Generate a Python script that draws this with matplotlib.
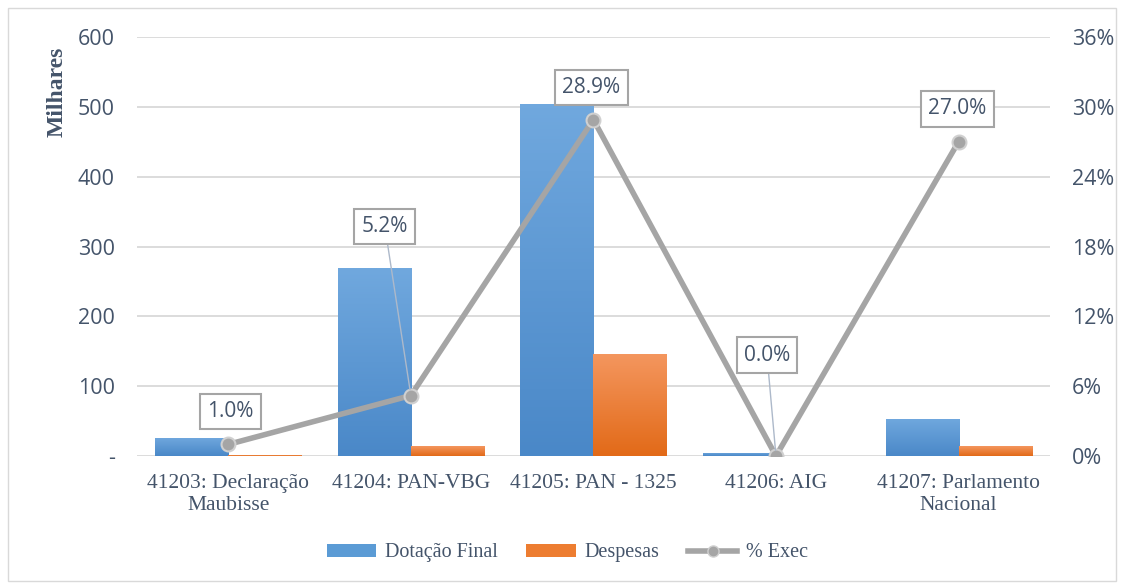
import numpy as np
import matplotlib
matplotlib.use('Agg')
import matplotlib.pyplot as plt
from matplotlib.patches import Rectangle, Patch
from matplotlib.lines import Line2D
from matplotlib.colors import LinearSegmentedColormap

categories = ['41203: Declaração\nMaubisse', '41204: PAN-VBG', '41205: PAN - 1325',
              '41206: AIG', '41207: Parlamento\nNacional']
dotacao = [26, 269, 504, 5, 53]      # milhares
despesas = [1, 14, 146, 0, 14]       # milhares
exec_pct = [1.0, 5.2, 28.9, 0.0, 27.0]
pct_labels = ['1.0%', '5.2%', '28.9%', '0.0%', '27.0%']
left_ticks = [0, 100, 200, 300, 400, 500, 600]
left_ticklabels = ['-', '100', '200', '300', '400', '500', '600']
right_ticks = [0, 6, 12, 18, 24, 30, 36]

# label box offsets (pixels) from each point
label_offsets = [(2, 33), (-26, 169), (-2, 32), (-9, 101), (-1, 33)]
leader = [False, True, False, True, False]

txt = '#44546A'
grid = '#D9D9D9'
sans = 'Open Sans'
serif = 'Liberation Serif'

fig = plt.figure(figsize=(11.24, 5.83), dpi=100)
fig.patches.append(Rectangle((8 / 1124, 0.003), 1108 / 1124, 1 - 8 / 583 - 0.003,
                             transform=fig.transFigure, fill=False,
                             edgecolor='#D9D9D9', linewidth=1))
ax = fig.add_axes([0.1219, 0.2178, 0.8121, 0.7187])
ax2 = ax.twinx()

x = np.arange(len(categories))
w = 0.4
blue_cmap = LinearSegmentedColormap.from_list('b', ['#4A88C8', '#70A8DE'])
orange_cmap = LinearSegmentedColormap.from_list('o', ['#E26A18', '#F4965E'])
grad = np.linspace(0, 1, 100).reshape(-1, 1)

bars1 = ax.bar(x - w / 2, dotacao, w, color='#5B9BD5', zorder=2)
bars2 = ax.bar(x + w / 2, despesas, w, color='#ED7D31', zorder=2)
for bars, cmap in [(bars1, blue_cmap), (bars2, orange_cmap)]:
    for b in bars:
        h = b.get_height()
        if h <= 0:
            continue
        x0 = b.get_x()
        im = ax.imshow(grad, cmap=cmap, origin='lower', aspect='auto',
                       extent=[x0, x0 + b.get_width(), 0, h], zorder=2.1)
        im.set_clip_path(b)

ax.set_xlim(-0.5, len(categories) - 0.5)
ax.set_ylim(0, 600)
ax.set_yticks(left_ticks)
ax.set_yticklabels(left_ticklabels)
ax.yaxis.grid(True, color=grid, linewidth=1.3, zorder=0)
ax.set_axisbelow(True)
for s in ax.spines.values():
    s.set_visible(False)
for s in ax2.spines.values():
    s.set_visible(False)
ax.tick_params(axis='y', length=0, pad=16, labelsize=15.5, labelcolor=txt)
for t in ax.get_yticklabels():
    t.set_fontfamily(sans)
ax.set_xticks(x)
ax.set_xticklabels(categories, fontfamily=serif, fontsize=15.5, color=txt, linespacing=1.2)
ax.tick_params(axis='x', length=0, pad=13)

ax.text(-0.0876, 0.869, 'Milhares', transform=ax.transAxes, rotation=90,
        ha='center', va='center', fontfamily=serif, fontweight='bold',
        fontsize=17, color=txt)

ax2.plot(x, exec_pct, color='#A5A5A5', linewidth=4, zorder=3,
         marker='o', markersize=10, markerfacecolor='#A5A5A5',
         markeredgecolor='#D0D0D0', markeredgewidth=1.5)
ax2.set_ylim(0, 36)
ax2.set_yticks(right_ticks)
ax2.set_yticklabels([f'{t}%' for t in right_ticks])
ax2.tick_params(axis='y', length=0, pad=16, labelsize=15.5, labelcolor=txt)
for t in ax2.get_yticklabels():
    t.set_fontfamily(sans)

for xi, yi, lab, off, ld in zip(x, exec_pct, pct_labels, label_offsets, leader):
    ap = dict(arrowstyle='-', color='#ADB9CA', linewidth=1, shrinkA=0, shrinkB=4) if ld else None
    ax2.annotate(lab, (xi, yi), xytext=off, textcoords='offset pixels',
                 ha='center', va='center', fontsize=15, fontfamily=sans, color=txt,
                 bbox=dict(boxstyle='square,pad=0.35', facecolor='white',
                           edgecolor='#A5A5A5', linewidth=1.5),
                 arrowprops=ap, zorder=5)

handles = [Patch(facecolor='#5B9BD5'), Patch(facecolor='#ED7D31'),
           Line2D([], [], color='#A5A5A5', linewidth=4, marker='o', markersize=8,
                  markerfacecolor='#A5A5A5', markeredgecolor='#D0D0D0')]
leg = fig.legend(handles, ['Dotação Final', 'Despesas', '% Exec'],
                 loc='center', bbox_to_anchor=(0.505, 0.0515), ncol=3, frameon=False,
                 prop={'family': serif, 'size': 14.5}, handlelength=2.45,
                 handleheight=0.6, columnspacing=1.4, handletextpad=0.45)
for t in leg.get_texts():
    t.set_color(txt)

fig.savefig('out.png', dpi=100)
